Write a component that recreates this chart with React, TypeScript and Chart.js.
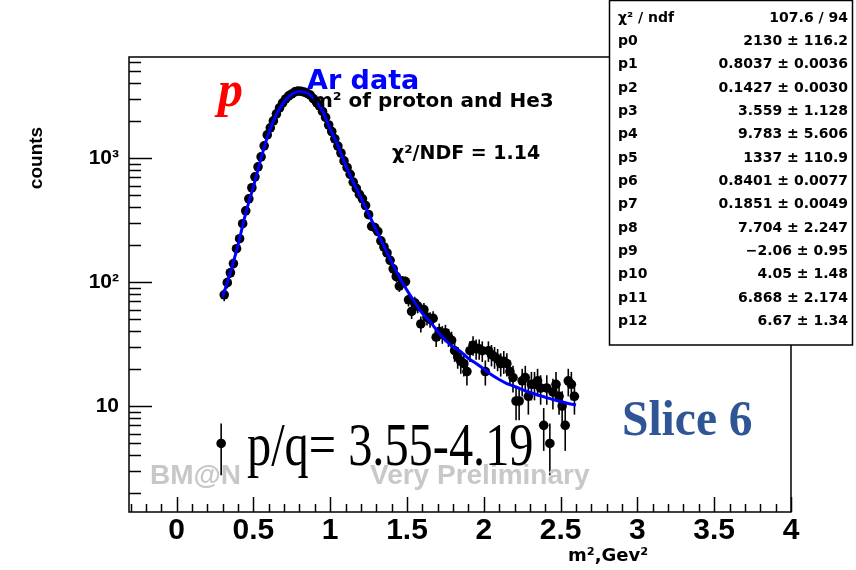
import React, { useEffect, useRef } from "react";
import { Chart, registerables } from "chart.js";

Chart.register(...registerables);

// ---------- data ----------
const binCenters = [
  0.29, 0.31, 0.33, 0.35, 0.37, 0.39, 0.41, 0.43, 0.45, 0.47, 0.49,
  0.51, 0.53, 0.55, 0.57, 0.59, 0.61, 0.63, 0.65, 0.67, 0.69,
  0.71, 0.73, 0.75, 0.77, 0.79, 0.81, 0.83, 0.85, 0.87, 0.89,
  0.91, 0.93, 0.95, 0.97, 0.99, 1.01, 1.03, 1.05, 1.07, 1.09,
  1.11, 1.13, 1.15, 1.17, 1.19, 1.21, 1.23, 1.25, 1.27, 1.29,
  1.31, 1.33, 1.35, 1.37, 1.39, 1.41, 1.43, 1.45, 1.47, 1.49,
  1.51, 1.53, 1.55, 1.57, 1.59, 1.61, 1.63, 1.65, 1.67, 1.69,
  1.71, 1.73, 1.75, 1.77, 1.79, 1.81, 1.83, 1.85, 1.87, 1.89,
  1.91, 1.93, 1.95, 1.97, 1.99, 2.01, 2.03, 2.05, 2.07, 2.09,
  2.11, 2.13, 2.15, 2.17, 2.19, 2.21, 2.23, 2.25, 2.27, 2.29,
  2.31, 2.33, 2.35, 2.37, 2.39, 2.41, 2.43, 2.45, 2.47, 2.49,
  2.51, 2.53, 2.55, 2.57, 2.59,
];

const binCounts = [
  5, 79, 99, 119, 141, 186, 224, 296, 376, 470, 577,
  707, 851, 1024, 1256, 1540, 1754, 1997, 2274, 2541, 2789,
  3001, 3175, 3294, 3420, 3480, 3460, 3410, 3330, 3220, 3020,
  2830, 2640, 2380, 2130, 1850, 1640, 1430, 1250, 1100, 950,
  840, 740, 640, 570, 510, 470, 415, 350, 282, 275,
  256, 215, 192, 172, 150, 128, 111, 93, 102, 101,
  72, 58, 68, 64, 46, 60, 52, 50, 51, 36,
  40, 38, 39, 36, 34, 28, 25, 23, 22, 19,
  28, 31, 29, 29, 28, 19, 28, 26, 25, 24,
  22, 23, 22, 19, 17, 11, 11, 16, 17, 12,
  15, 15, 16, 14, 7, 14, 5, 13, 15, 12,
  10, 7, 16, 15, 12,
];

const fitX = [
  0.30, 0.35, 0.40, 0.45, 0.50, 0.55, 0.60, 0.65, 0.70, 0.75,
  0.80, 0.85, 0.90, 0.95, 1.00, 1.05, 1.10, 1.15, 1.20, 1.25,
  1.30, 1.35, 1.40, 1.45, 1.50, 1.55, 1.60, 1.65, 1.70, 1.75,
  1.80, 1.85, 1.90, 1.95, 2.00, 2.05, 2.10, 2.15, 2.20, 2.25,
  2.30, 2.35, 2.40, 2.45, 2.50, 2.55, 2.60,
];
const fitY = [
  76, 120, 200, 360, 590, 1000, 1600, 2250, 2850, 3280,
  3440, 3350, 2950, 2400, 1720, 1260, 880, 640, 480, 355,
  262, 195, 145, 110, 86, 69, 56, 48, 40, 34,
  30, 27.5, 24.2, 22.1, 19.9, 17.9, 16.4, 15.2, 14.4, 13.6,
  12.9, 12.3, 11.8, 11.3, 10.9, 10.5, 10.2,
];

const xTickValues = [0, 0.5, 1, 1.5, 2, 2.5, 3, 3.5, 4];
const yTickValues = [10, 100, 1000];
const yTickLabels = ["10", "10²", "10³"];

const statNames = [
  "χ² / ndf", "p0", "p1", "p2", "p3", "p4", "p5", "p6", "p7", "p8", "p9", "p10", "p11", "p12",
];
const statValues = [
  "107.6 / 94", "2130 ± 116.2", "0.8037 ± 0.0036", "0.1427 ± 0.0030", "3.559 ± 1.128",
  "9.783 ± 5.606", "1337 ± 110.9", "0.8401 ± 0.0077", "0.1851 ± 0.0049", "7.704 ± 2.247",
  "−2.06 ± 0.95", "4.05 ± 1.48", "6.868 ± 2.174", "6.67 ± 1.34",
];

// ---------- styling ----------
const SANS = "'Liberation Sans', Arial, Helvetica, sans-serif";
const DEJAVU = "'DejaVu Sans', 'Liberation Sans', sans-serif";
const SERIF = "'Liberation Serif', 'Times New Roman', serif";

function drawText(
  ctx: CanvasRenderingContext2D,
  text: string,
  x: number,
  y: number,
  font: string,
  color: string,
  align: CanvasTextAlign = "left",
  sx = 1
) {
  ctx.save();
  ctx.font = font;
  ctx.fillStyle = color;
  ctx.textAlign = align;
  ctx.textBaseline = "alphabetic";
  ctx.translate(x, y);
  ctx.scale(sx, 1);
  ctx.fillText(text, 0, 0);
  ctx.restore();
}

const errorBarPlugin = {
  id: "errorBars",
  beforeDatasetsDraw(chart: any) {
    const { ctx, chartArea: a, scales } = chart;
    const y = scales.y;
    const x = scales.x;
    ctx.save();
    ctx.strokeStyle = "#000";
    ctx.lineWidth = 1.6;
    for (let i = 0; i < binCenters.length; i++) {
      const c = binCounts[i];
      const e = Math.sqrt(c);
      const px = x.getPixelForValue(binCenters[i]);
      const top = Math.max(a.top, y.getPixelForValue(c + e));
      const lo = c - e;
      const bot = lo > 0 ? Math.min(a.bottom, y.getPixelForValue(lo)) : a.bottom;
      ctx.beginPath();
      ctx.moveTo(px, top);
      ctx.lineTo(px, bot);
      ctx.stroke();
    }
    ctx.restore();
  },
};

const framePlugin = {
  id: "frameTicks",
  afterDatasetsDraw(chart: any) {
    const { ctx, chartArea: a, scales } = chart;
    const x = scales.x;
    const y = scales.y;
    ctx.save();
    ctx.strokeStyle = "#000";
    ctx.lineWidth = 1.5;
    // x ticks (inside)
    for (let k = -3; k <= 40; k++) {
      const v = k / 10;
      const px = Math.round(x.getPixelForValue(v)) + 0.5;
      const len = k % 5 === 0 ? 15 : 8;
      ctx.beginPath();
      ctx.moveTo(px, a.bottom);
      ctx.lineTo(px, a.bottom - len);
      ctx.stroke();
    }
    // y ticks (inside), log
    for (let dec = 1; dec <= 1000; dec *= 10) {
      for (let m = 1; m <= 9; m++) {
        const v = m * dec;
        if (v < y.min || v > y.max) continue;
        const py = Math.round(y.getPixelForValue(v)) + 0.5;
        const len = m === 1 ? 23 : 12;
        ctx.beginPath();
        ctx.moveTo(a.left, py);
        ctx.lineTo(a.left + len, py);
        ctx.stroke();
      }
    }
    // frame
    ctx.strokeRect(a.left, a.top, a.right - a.left, a.bottom - a.top);
    ctx.restore();
  },
  afterDraw(chart: any) {
    const { ctx } = chart;
    // watermark
    drawText(ctx, "BM@N", 150, 484, `bold 28px ${SANS}`, "#c8c8c8");
    drawText(ctx, "Very Preliminary", 370, 484, `bold 28px ${SANS}`, "#c8c8c8");

    // titles / annotations
    drawText(ctx, "m² of proton and He3", 312, 107, `bold 20px ${DEJAVU}`, "#000");
    drawText(ctx, "Ar data", 307, 88.5, `bold 27px ${DEJAVU}`, "#0000ff");
    drawText(ctx, "p", 218, 106, `italic bold 50px ${SERIF}`, "#ff0000");
    drawText(ctx, "χ²/NDF = 1.14", 392, 158.5, `bold 19px ${DEJAVU}`, "#000");
    drawText(ctx, "Slice 6", 622, 435, `bold 50px ${SERIF}`, "#2f5597", "left", 0.95);
    drawText(ctx, "p/q= 3.55-4.19", 247, 465, `62px ${SERIF}`, "#000", "left", 0.78);

    // axis titles
    ctx.save();
    ctx.translate(42, 158);
    ctx.rotate(-Math.PI / 2);
    ctx.font = `bold 19px ${SANS}`;
    ctx.fillStyle = "#000";
    ctx.textAlign = "center";
    ctx.textBaseline = "alphabetic";
    ctx.fillText("counts", 0, 0);
    ctx.restore();
    drawText(ctx, "m²,Gev²", 568, 561, `bold 18px ${DEJAVU}`, "#000");

    // stats box
    ctx.save();
    ctx.fillStyle = "#fff";
    ctx.fillRect(609, 0, 244, 345);
    ctx.strokeStyle = "#000";
    ctx.lineWidth = 1.5;
    ctx.strokeRect(609.5, 0.5, 243, 344.5);
    ctx.restore();
    for (let i = 0; i < statNames.length; i++) {
      const by = 21.7 + 23.33 * i;
      drawText(ctx, statNames[i], 618, by, `bold 14px ${DEJAVU}`, "#000");
      drawText(ctx, statValues[i], 848, by, `bold 14px ${DEJAVU}`, "#000", "right");
    }
  },
};

export default function App() {
  const ref = useRef<HTMLCanvasElement | null>(null);

  useEffect(() => {
    if (!ref.current) return;
    const chart = new Chart(ref.current, {
      type: "scatter",
      data: {
        datasets: [
          {
            type: "line",
            label: "fit",
            data: fitX.map((v, i) => ({ x: v, y: fitY[i] })),
            borderColor: "#0000ff",
            borderWidth: 3,
            pointRadius: 0,
            fill: false,
            cubicInterpolationMode: "monotone",
          } as any,
          {
            type: "scatter",
            label: "data",
            data: binCenters.map((v, i) => ({ x: v, y: binCounts[i] })),
            backgroundColor: "#000",
            borderColor: "#000",
            borderWidth: 0,
            pointRadius: 4.8,
          } as any,
        ],
      },
      options: {
        animation: false,
        responsive: false,
        devicePixelRatio: 1,
        events: [],
        layout: { padding: { left: 0, top: 57, right: 65, bottom: 0 } },
        plugins: { legend: { display: false }, tooltip: { enabled: false } },
        scales: {
          x: {
            type: "linear",
            min: -0.31,
            max: 4.0,
            afterBuildTicks: (s: any) => {
              s.ticks = xTickValues.map((v) => ({ value: v }));
            },
            afterFit: (s: any) => {
              s.height = 58;
            },
            grid: { display: false, drawTicks: false },
            border: { display: false },
            ticks: {
              autoSkip: false,
              maxRotation: 0,
              padding: 1,
              color: "#000",
              font: { family: SANS, size: 30, weight: "bold" },
              callback: (v: any) => String(v),
            },
          },
          y: {
            type: "logarithmic",
            min: 1.4,
            max: 6540,
            afterBuildTicks: (s: any) => {
              s.ticks = yTickValues.map((v) => ({ value: v }));
            },
            afterFit: (s: any) => {
              s.width = 129;
            },
            grid: { display: false, drawTicks: false },
            border: { display: false },
            ticks: {
              padding: 10,
              color: "#000",
              font: { family: SANS, size: 21, weight: "bold" },
              callback: (v: any) => {
                const idx = yTickValues.indexOf(Number(v));
                return idx >= 0 ? yTickLabels[idx] : "";
              },
            },
          },
        },
      } as any,
      plugins: [errorBarPlugin, framePlugin],
    });
    return () => chart.destroy();
  }, []);

  return (
    <div
      style={{
        position: "absolute",
        left: 0,
        top: 0,
        width: 856,
        height: 570,
        background: "#fff",
      }}
    >
      <canvas ref={ref} width={856} height={570} />
    </div>
  );
}
